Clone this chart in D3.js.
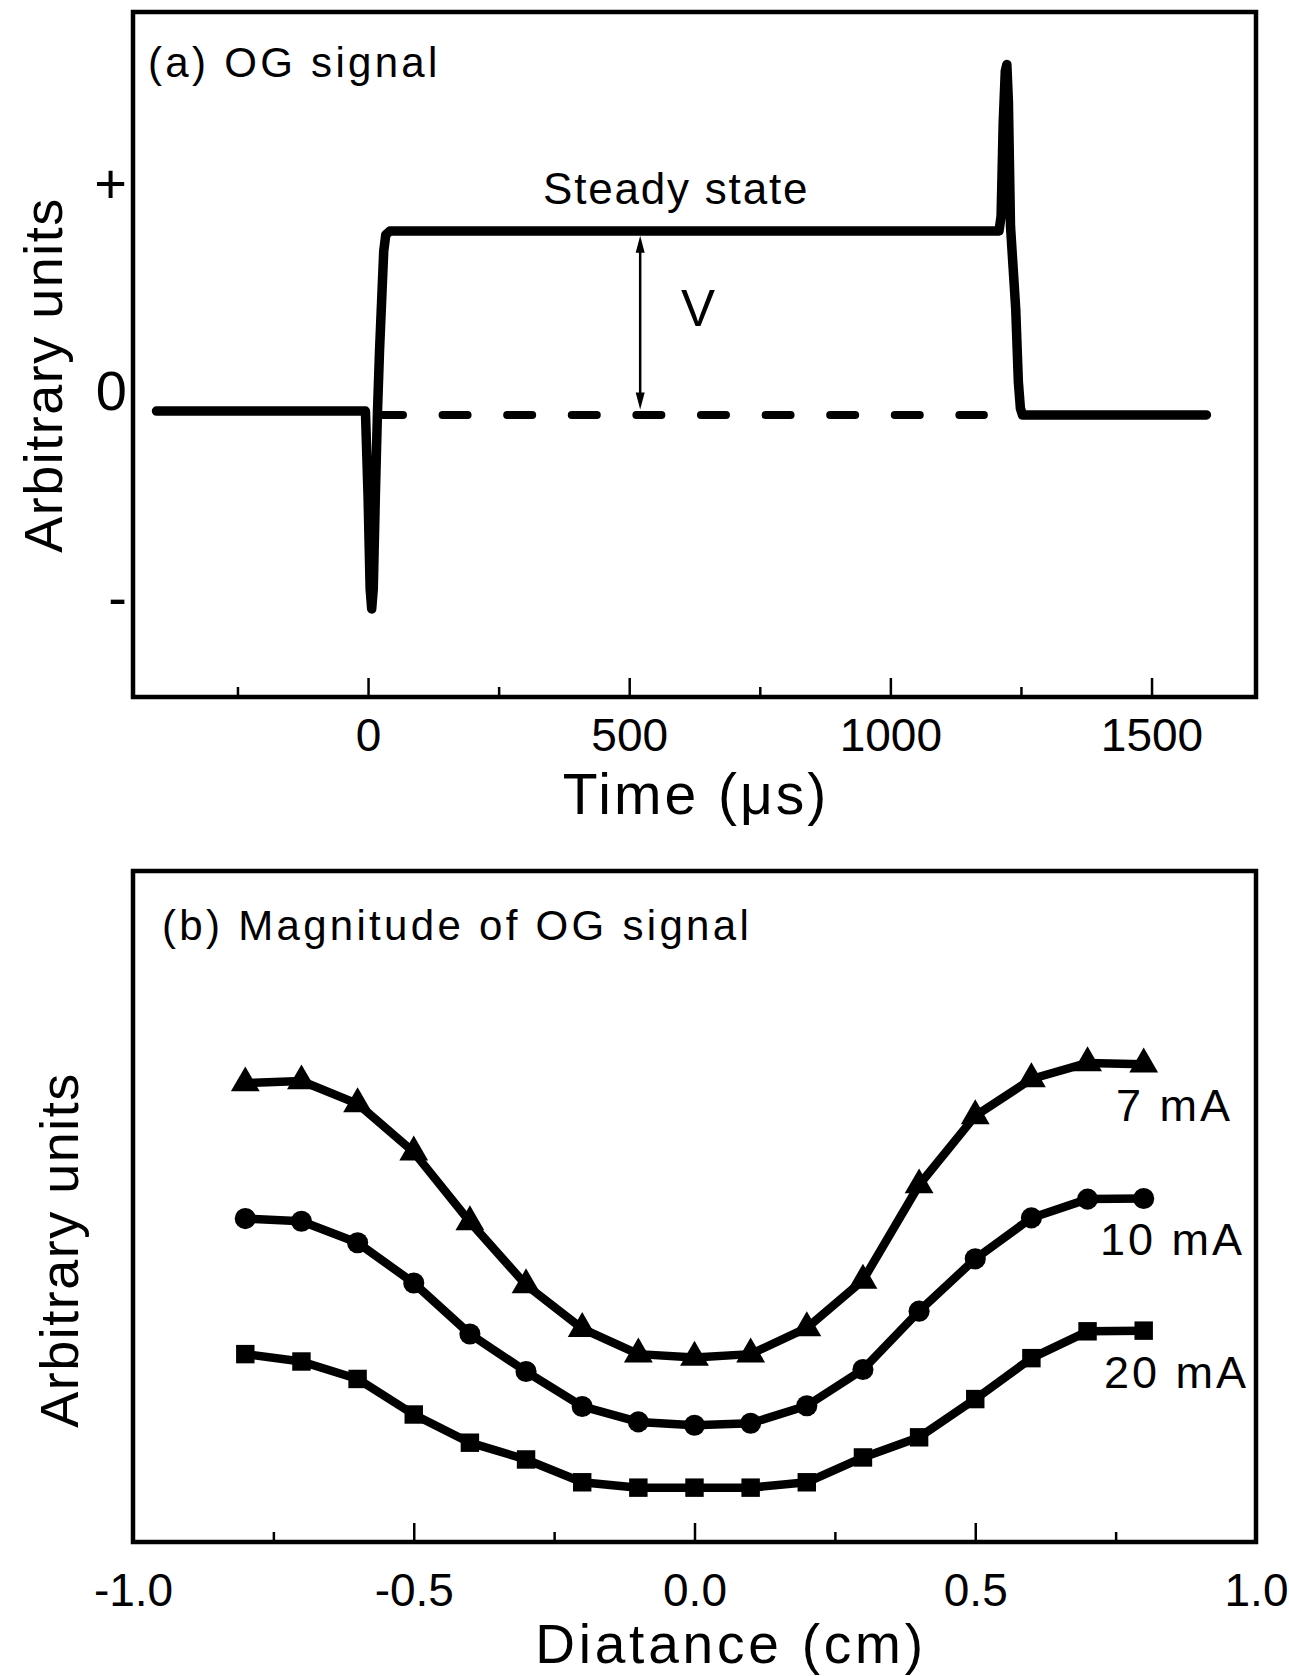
<!DOCTYPE html>
<html><head><meta charset="utf-8">
<script src="https://cdn.jsdelivr.net/npm/d3@7"></script>
<style>
body{margin:0;background:#fff;}
svg{display:block;background:#fff;}
text{font-family:"Liberation Sans", Arial, Helvetica, sans-serif; fill:#000;}
</style></head><body>
<svg id="chart" width="1289" height="1676"></svg>
<script>
// ---------- Panel (a): OG signal ----------
const timeMajorTicks = [0, 500, 1000, 1500];
const timeTickLabels = ["0", "500", "1000", "1500"];
const timeMinorTicks = [-250, 250, 750, 1250];
const signalTime  = [-405, -5, 0, 4, 7, 10, 14, 18, 22, 26, 30, 34, 42, 1208, 1212, 1216, 1220, 1223, 1226, 1230, 1235, 1240, 1245, 1249, 1253, 1605];
const signalValue = [-0.092, -0.092, -0.5, -0.95, -1.048, -0.95, -0.5, -0.1, 0.2, 0.44, 0.68, 0.76, 0.778, 0.778, 0.85, 1.3, 1.55, 1.582, 1.4, 0.8, 0.6, 0.4, 0.05, -0.08, -0.111, -0.111];
const zeroLineTime = [19, 1179];
const zeroLineValue = -0.111;
const arrowTime = 521;
const arrowTop = 0.755;
const arrowBottom = -0.085;
const aYTickValues = [1, 0, -1];
const aYTickLabels = ["+", "0", "-"];

// ---------- Panel (b): magnitude vs distance ----------
const distance = [-0.8, -0.7, -0.6, -0.5, -0.4, -0.3, -0.2, -0.1, 0.0, 0.1, 0.2, 0.3, 0.4, 0.5, 0.6, 0.7, 0.8];
const mag7mA  = [68.4, 68.7, 65.3, 58.1, 47.7, 38.3, 31.8, 28.0, 27.5, 28.0, 31.9, 39.0, 53.2, 63.5, 69.0, 71.4, 71.2];
const mag10mA = [48.2, 47.8, 44.6, 38.6, 31.0, 25.4, 20.2, 17.9, 17.4, 17.7, 20.3, 25.7, 34.4, 42.2, 48.3, 51.1, 51.2];
const mag20mA = [28.0, 26.9, 24.3, 19.0, 14.8, 12.3, 8.9, 8.1, 8.1, 8.1, 8.9, 12.6, 15.6, 21.3, 27.4, 31.4, 31.5];
const seriesNames = ["7 mA", "10 mA", "20 mA"];
const distMajorTicks = [-1.0, -0.5, 0.0, 0.5, 1.0];
const distTickLabels = ["-1.0", "-0.5", "0.0", "0.5", "1.0"];
const distMinorTicks = [-0.75, -0.25, 0.25, 0.75];

const svg = d3.select("#chart");
const FONT = '"Liberation Sans", Arial, Helvetica, sans-serif';

// ===== Panel (a) =====
const A = {left: 133, right: 1256, top: 12, bottom: 697};
const xA = d3.scaleLinear().domain([-450, 1700]).range([A.left, A.right]);
const yA = d3.scaleLinear().domain([-1.4734, 1.8357]).range([A.bottom, A.top]);
const gA = svg.append("g");

gA.append("g").attr("transform", `translate(0,${A.bottom})`)
  .call(d3.axisBottom(xA).tickValues(timeMinorTicks).tickSizeInner(-10).tickSizeOuter(0).tickFormat(""))
  .call(g => g.select(".domain").remove())
  .call(g => g.selectAll("line").attr("stroke-width", 2.5));
gA.append("g").attr("transform", `translate(0,${A.bottom})`)
  .call(d3.axisBottom(xA).tickValues(timeMajorTicks).tickSizeInner(-19).tickSizeOuter(0).tickPadding(21)
        .tickFormat((d, i) => timeTickLabels[i]))
  .call(g => g.select(".domain").remove())
  .call(g => g.selectAll("line").attr("stroke-width", 2.5))
  .call(g => g.selectAll("text").attr("font-size", 46).attr("font-family", FONT).attr("fill", "#000"));
gA.append("g").attr("transform", `translate(${A.left},0)`)
  .call(d3.axisLeft(yA).tickValues(aYTickValues).tickSize(0).tickPadding(6)
        .tickFormat((d, i) => aYTickLabels[i]))
  .call(g => g.select(".domain").remove())
  .call(g => g.selectAll("text").attr("font-size", 56).attr("font-family", FONT).attr("fill", "#000"));

gA.append("rect").attr("x", A.left).attr("y", A.top).attr("width", A.right - A.left).attr("height", A.bottom - A.top)
  .attr("fill", "none").attr("stroke", "#000").attr("stroke-width", 4.5);

gA.append("path")
  .datum(zeroLineTime)
  .attr("d", d3.line().x(d => xA(d)).y(() => yA(zeroLineValue)))
  .attr("fill", "none").attr("stroke", "#000").attr("stroke-width", 8)
  .attr("stroke-linecap", "round").attr("stroke-dasharray", "25,39.6");

const sig = signalTime.map((t, i) => [t, signalValue[i]]);
gA.append("path").datum(sig)
  .attr("d", d3.line().x(d => xA(d[0])).y(d => yA(d[1])))
  .attr("fill", "none").attr("stroke", "#000").attr("stroke-width", 9.5)
  .attr("stroke-linejoin", "round").attr("stroke-linecap", "round");

const ax = xA(arrowTime), ayT = yA(arrowTop), ayB = yA(arrowBottom);
gA.append("line").attr("x1", ax).attr("x2", ax).attr("y1", ayT + 8).attr("y2", ayB - 8)
  .attr("stroke", "#000").attr("stroke-width", 2.5);
gA.append("path").attr("d", `M${ax},${ayT} L${ax - 4.5},${ayT + 17} L${ax + 4.5},${ayT + 17} Z`).attr("fill", "#000");
gA.append("path").attr("d", `M${ax},${ayB} L${ax - 4.5},${ayB - 17} L${ax + 4.5},${ayB - 17} Z`).attr("fill", "#000");

gA.append("text").attr("x", 681).attr("y", 326).attr("font-size", 51).text("V");
gA.append("text").attr("x", 543).attr("y", 204).attr("font-size", 44).attr("letter-spacing", 1.8).text("Steady state");
gA.append("text").attr("x", 148).attr("y", 77).attr("font-size", 42).attr("letter-spacing", 3.3).text("(a) OG signal");
gA.append("text").attr("x", 696).attr("y", 814).attr("font-size", 57).attr("letter-spacing", 3)
  .attr("text-anchor", "middle").text("Time (μs)");
gA.append("text").attr("transform", "translate(62,375) rotate(-90)").attr("font-size", 54).attr("letter-spacing", 1.5)
  .attr("text-anchor", "middle").text("Arbitrary units");

// ===== Panel (b) =====
const B = {left: 133, right: 1256, top: 871, bottom: 1542};
const xB = d3.scaleLinear().domain([-1, 1]).range([B.left, B.right]);
const yB = d3.scaleLinear().domain([0, 100]).range([B.bottom, B.top]);
const gB = svg.append("g");

gB.append("g").attr("transform", `translate(0,${B.bottom})`)
  .call(d3.axisBottom(xB).tickValues(distMinorTicks).tickSizeInner(-10).tickSizeOuter(0).tickFormat(""))
  .call(g => g.select(".domain").remove())
  .call(g => g.selectAll("line").attr("stroke-width", 2.5));
gB.append("g").attr("transform", `translate(0,${B.bottom})`)
  .call(d3.axisBottom(xB).tickValues(distMajorTicks).tickSizeInner(-19).tickSizeOuter(0).tickPadding(31)
        .tickFormat((d, i) => distTickLabels[i]))
  .call(g => g.select(".domain").remove())
  .call(g => g.selectAll("line").attr("stroke-width", 2.5))
  .call(g => g.selectAll("text").attr("font-size", 46).attr("font-family", FONT).attr("fill", "#000"));

gB.append("rect").attr("x", B.left).attr("y", B.top).attr("width", B.right - B.left).attr("height", B.bottom - B.top)
  .attr("fill", "none").attr("stroke", "#000").attr("stroke-width", 4.5);

const series = [
  {name: seriesNames[0], values: mag7mA,  symbol: d3.symbolTriangle, size: 360},
  {name: seriesNames[1], values: mag10mA, symbol: d3.symbolCircle,   size: 350},
  {name: seriesNames[2], values: mag20mA, symbol: d3.symbolSquare,   size: 340}
];
const lineB = d3.line().x(d => xB(d[0])).y(d => yB(d[1]));
series.forEach(s => {
  const pts = distance.map((x, i) => [x, s.values[i]]);
  gB.append("path").datum(pts).attr("d", lineB)
    .attr("fill", "none").attr("stroke", "#000").attr("stroke-width", 8.5).attr("stroke-linejoin", "round");
  gB.selectAll(null).data(pts).enter().append("path")
    .attr("transform", d => `translate(${xB(d[0])},${yB(d[1])})`)
    .attr("d", d3.symbol().type(s.symbol).size(s.size)())
    .attr("fill", "#000");
});

const labelEnd = [1233, 1245, 1249];
series.forEach((s, i) => {
  const last = s.values[s.values.length - 1];
  gB.append("text").attr("x", labelEnd[i]).attr("y", yB(last) + 57)
    .attr("text-anchor", "end").attr("font-size", 45).attr("letter-spacing", 3).text(s.name);
});

gB.append("text").attr("x", 162).attr("y", 940).attr("font-size", 42).attr("letter-spacing", 3.3).text("(b) Magnitude of OG signal");
gB.append("text").attr("x", 731).attr("y", 1663).attr("font-size", 55).attr("letter-spacing", 3.8)
  .attr("text-anchor", "middle").text("Diatance (cm)");
gB.append("text").attr("transform", "translate(78,1250) rotate(-90)").attr("font-size", 54).attr("letter-spacing", 1.5)
  .attr("text-anchor", "middle").text("Arbitrary units");
</script>
</body></html>
